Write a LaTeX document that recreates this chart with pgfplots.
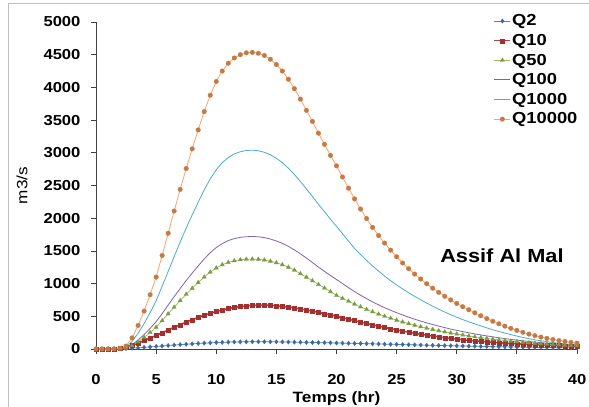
\documentclass[border=0pt]{standalone}
\usepackage{fontspec}
\setmainfont{Liberation Sans}[FakeStretch=1.15]
\usepackage{pgfplots}
\pgfplotsset{compat=1.18}
\usepackage{pgfplotstable}
\definecolor{cQtwo}{HTML}{4F81BD}
\definecolor{cQtwoM}{HTML}{3D6A9E}
\definecolor{cQten}{HTML}{B8403D}
\definecolor{cQtenM}{HTML}{A3302E}
\definecolor{cQfifty}{HTML}{9BBB59}
\definecolor{cQfiftyM}{HTML}{7A9A45}
\definecolor{cQhund}{HTML}{8064A2}
\definecolor{cQthou}{HTML}{4BACC6}
\definecolor{cQtenk}{HTML}{F7A468}
\definecolor{cQtenkM}{HTML}{C47A45}

\pgfplotstableread{
t q2 q10 q50 q100 q1000 q10000
0 0 0 0 0 0 0
0.5 0 0 0 0 0 0
1 0 0 0 0 0 0
1.5 1 2 1 1 1 2
2 3 8 3 4 7 10
2.5 7 25 14 17 30 45
3 12 55 52 64 114 170
3.5 18 90 109 137 241 360
4 25 128 176 220 389 580
4.5 32 167 252 315 556 830
5 39 207 334 417 737 1100
5.5 46 248 434 542 959 1430
6 53 290 537 671 1186 1770
6.5 60 332 640 800 1414 2110
7 67 372 740 925 1636 2440
7.5 73 411 837 1047 1850 2760
8 79 448 928 1161 2051 3060
8.5 85 483 1016 1271 2245 3350
9 90 516 1101 1377 2433 3630
9.5 95 546 1176 1472 2601 3880
10 99 573 1240 1551 2742 4090
10.5 102 597 1289 1612 2849 4250
11 105 617 1325 1658 2929 4370
11.5 107 634 1349 1688 2983 4450
12 109 648 1364 1707 3016 4500
12.5 110 659 1373 1717 3035 4528
13 111 666 1375 1720 3040 4535
13.5 111 670 1371 1716 3031 4522
14 111 670 1361 1703 3008 4488
14.5 110 667 1343 1682 2969 4430
15 109 661 1319 1652 2916 4350
15.5 108 652 1289 1615 2849 4250
16 107 641 1251 1570 2765 4125
16.5 105 628 1207 1515 2668 3980
17 104 613 1150 1455 2561 3820
17.5 102 596 1098 1390 2447 3650
18 100 579 1043 1322 2333 3480
18.5 98 560 987 1252 2212 3300
19 96 540 932 1187 2098 3130
19.5 94 521 876 1123 1984 2960
20 92 500 820 1062 1877 2800
20.5 90 478 775 1000 1763 2630
21 88 456 730 938 1649 2460
21.5 86 434 686 878 1538 2295
22 84 412 645 822 1445 2140
22.5 81 391 606 770 1355 1995
23 79 370 569 720 1270 1860
23.5 77 350 534 675 1190 1735
24 75 330 501 632 1115 1620
24.5 72 311 470 592 1045 1512
25 70 292 441 555 980 1410
25.5 68 274 414 520 918 1315
26 65 257 388 487 860 1228
26.5 63 241 364 456 805 1146
27 61 226 341 427 752 1070
27.5 58 212 319 400 702 998
28 56 198 299 374 654 930
28.5 54 185 280 350 608 866
29 52 173 262 327 565 806
29.5 50 162 245 305 524 750
30 48 151 229 285 486 697
30.5 46 141 214 266 450 647
31 44 132 200 248 416 600
31.5 42 124 187 231 384 553
32 40 116 174 215 353 508
32.5 38 109 162 200 323 465
33 36 102 151 186 295 424
33.5 34 96 140 172 268 385
34 33 90 130 159 243 349
34.5 31 85 121 147 220 316
35 30 80 112 136 198 285
35.5 28 75 104 125 177 255
36 27 70 96 115 158 228
36.5 25 66 89 106 141 204
37 24 62 82 97 126 182
37.5 23 58 76 89 112 162
38 22 55 70 82 99 145
38.5 20 52 65 75 88 129
39 19 49 60 69 78 115
39.5 18 46 55 63 69 101
40 17 43 51 58 61 89
}\datatable

\begin{document}
\begin{tikzpicture}
\path[use as bounding box] (0,0) rectangle (589bp,407bp);
\fill[white] (0,0) rectangle (589bp,407bp);
\draw[black!25, line width=0.8pt] (8bp,0) -- (8bp,404bp) -- (589bp,404bp);
\begin{axis}[
  at={(96bp,58bp)}, anchor=south west,
  scale only axis, width=481bp, height=327bp,
  xmin=0, xmax=40, ymin=0, ymax=5000,
  axis x line=bottom, axis y line=left,
  x axis line style={-}, y axis line style={-},
  axis line style={black!75, line width=0.8pt},
  xtick={0,5,...,40}, ytick={0,500,...,5000},
  tick align=outside, major tick length=5bp,
  tick style={black!75, line width=0.8pt},
  /pgf/number format/assume math mode=true,
  /pgf/number format/1000 sep={},
  ticklabel style={font=\fontsize{14.5}{16}\selectfont\bfseries},
  xticklabel style={yshift=-17bp},
  yticklabel style={xshift=-7bp},
  xlabel={Temps (hr)},
  ylabel={m3/s},
  xlabel style={font=\fontsize{15}{17}\selectfont\bfseries, at={(axis description cs:0.5,-0.153)}, anchor=center},
  ylabel style={font=\fontsize{15}{17}\selectfont, at={(axis description cs:-0.154,0.5)}, anchor=center},
  legend style={at={(axis description cs:0.82,1.035)}, anchor=north west, draw=none, fill=none,
    font=\fontsize{16}{18}\selectfont\bfseries, row sep=3bp,
    nodes={inner xsep=1bp}},
  legend image code/.code={\draw[mark repeat=2,mark phase=2] plot coordinates {(0bp,0bp)(8bp,0bp)(16bp,0bp)};},
  legend cell align=left,
  clip=false,
]
\addplot[color=cQtwo, line width=0.7pt, mark=diamond*, mark size=2.2bp, mark options={fill=cQtwoM, draw=cQtwoM, line width=0.3pt}] table[x=t,y=q2]{\datatable};
\addlegendentry{Q2}
\addplot[color=cQten, line width=1.6pt, mark=square*, mark size=2bp, mark options={fill=cQtenM, draw=cQtenM, line width=0.3pt}] table[x=t,y=q10]{\datatable};
\addlegendentry{Q10}
\addplot[color=cQfifty, line width=0.7pt, mark=triangle*, mark size=2.4bp, mark options={fill=cQfiftyM, draw=cQfiftyM, line width=0.3pt}] table[x=t,y=q50]{\datatable};
\addlegendentry{Q50}
\addplot[color=cQhund, line width=0.8pt, mark=none] table[x=t,y=q100]{\datatable};
\addlegendentry{Q100}
\addplot[color=cQthou, line width=0.8pt, mark=none] table[x=t,y=q1000]{\datatable};
\addlegendentry{Q1000}
\addplot[color=cQtenk, line width=0.8pt, mark=*, mark size=2.3bp, mark options={fill=cQtenkM, draw=cQtenkM, line width=0.3pt}] table[x=t,y=q10000]{\datatable};
\addlegendentry{Q10000}
\node[font=\fontsize{19}{22}\selectfont\bfseries] at (axis description cs:0.844,0.284) {Assif Al Mal};
\end{axis}
\end{tikzpicture}
\end{document}
